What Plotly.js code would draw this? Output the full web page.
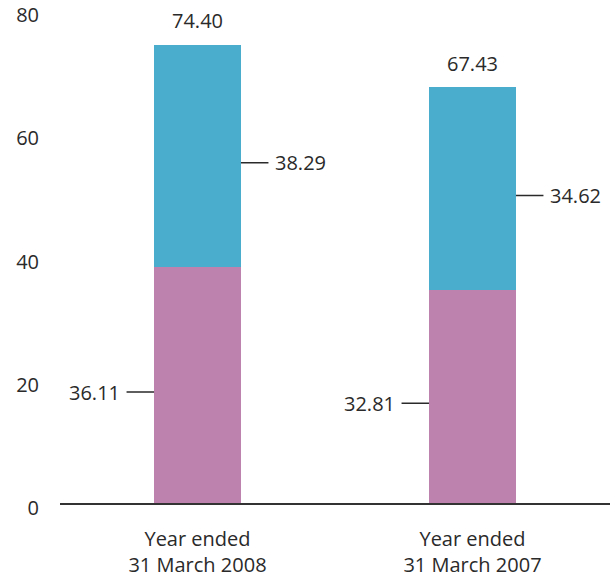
<!DOCTYPE html>
<html>
<head>
<meta charset="utf-8">
<script src="https://cdn.plot.ly/plotly-3.0.1.min.js"></script>
<style>html,body{margin:0;padding:0;background:#fff;}#chart{width:613px;height:583px;}</style>
</head>
<body>
<div id="chart"></div>
<script>
// Data
const categories = ["Year ended<br>31 March 2008", "Year ended<br>31 March 2007"];
const pinkValues = [38.29, 34.62];   // lower segments (bar heights)
const blueValues = [36.11, 32.81];   // upper segments (bar heights)
const blueLabels = ["38.29", "34.62"]; // labels printed beside the upper segments
const pinkLabels = ["36.11", "32.81"]; // labels printed beside the lower segments
const yTicks = [0, 20, 40, 60, 80];

const textColor = "#2a2a2a";
const fontFamily = "'Open Sans', 'Noto Sans', sans-serif";
const barWidth = 0.316;
const half = barWidth / 2;

const xs = categories.map((c, i) => i);

const traces = [
  {
    type: "bar", x: xs, y: pinkValues, width: barWidth,
    marker: {color: "#BE82AE", line: {width: 0}}, hoverinfo: "skip"
  },
  {
    type: "bar", x: xs, y: blueValues, width: barWidth,
    marker: {color: "#4BADCE", line: {width: 0}}, hoverinfo: "skip"
  }
];

const annotations = [];
xs.forEach((x, i) => {
  const total = pinkValues[i] + blueValues[i];
  annotations.push({
    x: x, y: total, xref: "x", yref: "y", text: total.toFixed(2),
    showarrow: false, yanchor: "middle", yshift: 24,
    font: {family: fontFamily, size: 20, color: textColor}
  });
  annotations.push({
    x: x + half, y: pinkValues[i] + blueValues[i] / 2, xref: "x", yref: "y",
    text: blueLabels[i], showarrow: true, arrowhead: 0, arrowwidth: 1.5,
    arrowcolor: textColor, ax: 59.5, ay: 0, yshift: -7, borderpad: 6,
    font: {family: fontFamily, size: 20, color: textColor}
  });
  annotations.push({
    x: x - half, y: pinkValues[i] / 2, xref: "x", yref: "y",
    text: pinkLabels[i], showarrow: true, arrowhead: 0, arrowwidth: 1.5,
    arrowcolor: textColor, ax: -59.5, ay: 0, yshift: -7, borderpad: 6,
    font: {family: fontFamily, size: 20, color: textColor}
  });
});

const layout = {
  width: 613, height: 583,
  margin: {l: 60, r: 3, t: 10, b: 80},
  paper_bgcolor: "#ffffff", plot_bgcolor: "#ffffff",
  barmode: "stack",
  showlegend: false,
  font: {family: fontFamily, size: 20, color: textColor},
  xaxis: {
    tickmode: "array", tickvals: xs, ticktext: categories,
    range: [-0.5, 1.5], showline: true, linecolor: "#333333", linewidth: 1.5,
    ticks: "", showgrid: false, zeroline: false, fixedrange: true,
    ticklabelstandoff: 17,
    tickfont: {family: fontFamily, size: 20, color: textColor}
  },
  yaxis: {
    range: [0, 80], tickmode: "array", tickvals: yTicks,
    ticktext: yTicks.map(String),
    showline: false, showgrid: false, zeroline: false, ticks: "",
    ticklabelstandoff: 20, ticklabelshift: 5, ticklabeloverflow: "allow",
    fixedrange: true,
    tickfont: {family: fontFamily, size: 20, color: textColor}
  },
  annotations: annotations
};

Plotly.newPlot("chart", traces, layout, {displayModeBar: false, staticPlot: true});
</script>
</body>
</html>
